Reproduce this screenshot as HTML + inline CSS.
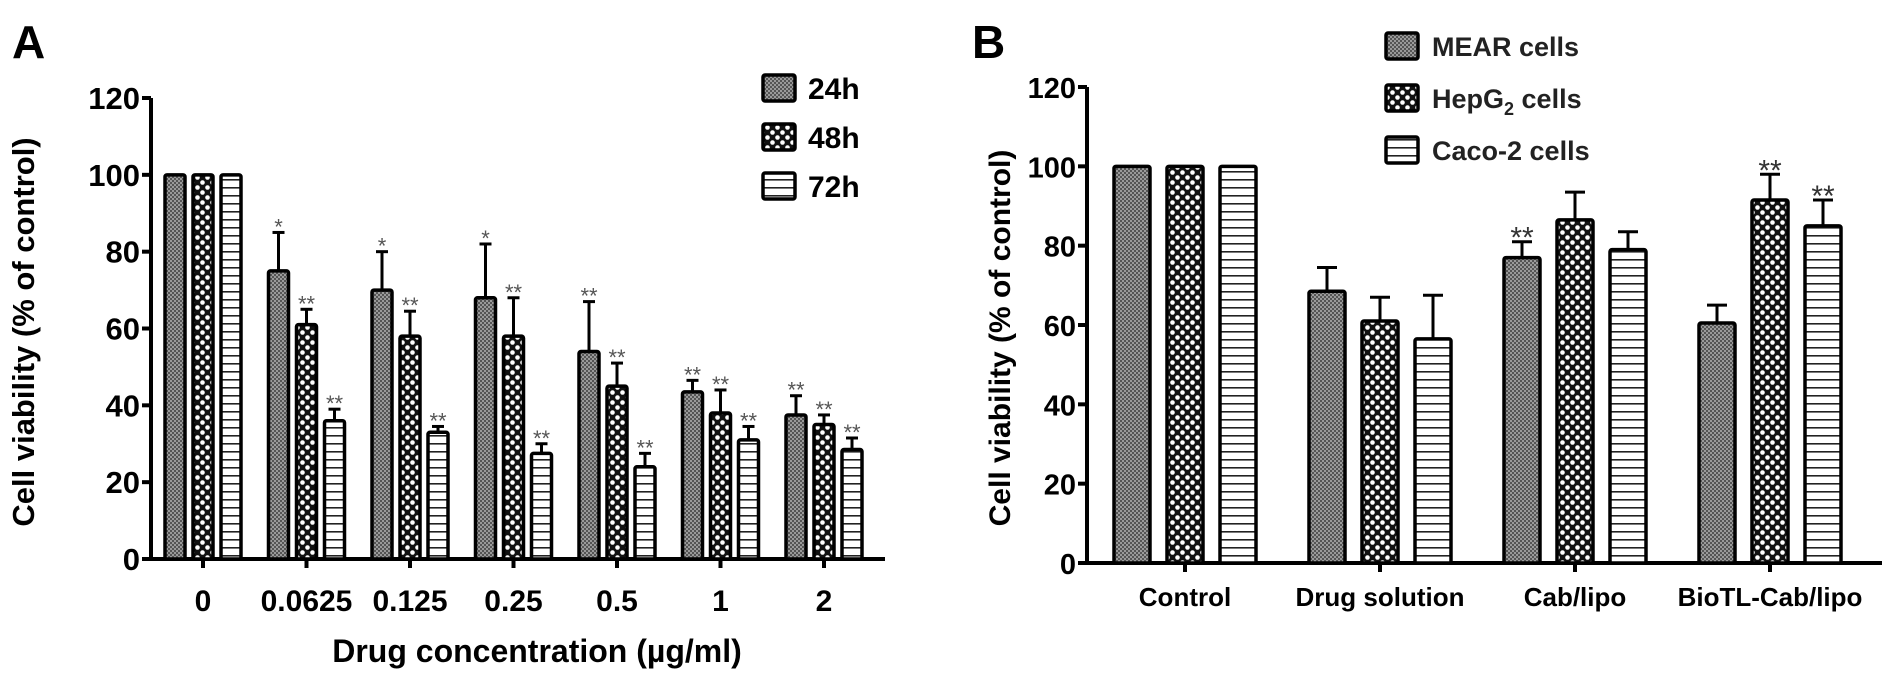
<!DOCTYPE html>
<html><head><meta charset="utf-8"><style>
html,body{margin:0;padding:0;background:#fff;width:1890px;height:677px;overflow:hidden}
svg{display:block;font-family:"Liberation Sans",Arial,sans-serif}
</style></head><body>
<svg id="fig" width="1890" height="677" viewBox="0 0 1890 677" xmlns="http://www.w3.org/2000/svg">
<defs>
<pattern id="pGray" width="4" height="4" patternUnits="userSpaceOnUse"><rect width="4" height="4" fill="#9a9a9a"/><rect width="2" height="2" fill="#555"/><rect x="2" y="2" width="2" height="2" fill="#555"/></pattern>
<pattern id="pCheck" width="10" height="10" patternUnits="userSpaceOnUse"><rect width="10" height="10" fill="#111"/><circle cx="2.5" cy="2.5" r="2.3" fill="#fff"/><circle cx="7.5" cy="7.5" r="2.3" fill="#fff"/></pattern>
<pattern id="pLines" width="8" height="8" patternUnits="userSpaceOnUse"><rect width="8" height="8" fill="#fff"/><rect y="3" width="8" height="1.6" fill="#222"/></pattern>
</defs>
<g id="chartA"></g>
<g id="chartB"></g>
</svg>
<script>
// Chart A data
const catsA = ["0","0.0625","0.125","0.25","0.5","1","2"];
const seriesNamesA = ["24h","48h","72h"];
const vals24 = [100,75,70,68,54,43.5,37.5];
const vals48 = [100,61,58,58,45,38,35];
const vals72 = [100,36,33,27.5,24,31,28.5];
const err24 = [0,10,10,14,13,3,5];
const err48 = [0,4,6.5,10,6,6,2.5];
const err72 = [0,3,1.5,2.5,3.5,3.5,3];
const sig24 = ["","*","*","*","**","**","**"];
const sig48 = ["","**","**","**","**","**","**"];
const sig72 = ["","**","**","**","**","**","**"];
const ticksA = [0,20,40,60,80,100,120];
// Chart B data
const catsB = ["Control","Drug solution","Cab/lipo","BioTL-Cab/lipo"];
const valsMEAR = [100,68.5,77,60.5];
const valsHep = [100,61,86.5,91.5];
const valsCaco = [100,56.5,79,85];
const errMEAR = [0,6,4,4.5];
const errHep = [0,6,7,6.5];
const errCaco = [0,11,4.5,6.5];
const sigMEAR = ["","","**",""];
const sigHep = ["","","","**"];
const sigCaco = ["","","","**"];
const ticksB = [0,20,40,60,80,100,120];

const NS="http://www.w3.org/2000/svg";
function mk(parent,tag,attrs,text){const e=document.createElementNS(NS,tag);for(const k in attrs)e.setAttribute(k,attrs[k]);if(text!==undefined)e.textContent=text;parent.appendChild(e);return e;}

function drawChart(g,cfg){
  const yS=v=>cfg.y0-(v/120)*(cfg.y0-cfg.y120);
  const xS=i=>cfg.firstX+i*cfg.groupStep;
  const ya=mk(g,'line',{x1:cfg.ax,y1:yS(120),x2:cfg.ax,y2:cfg.y0+1.5,stroke:'#000','stroke-width':4});
  
  
  const xa=mk(g,'line',{x1:cfg.ax-2,y1:cfg.y0,x2:cfg.axEnd,y2:cfg.y0,stroke:'#000','stroke-width':4});
  
  
  cfg.ticks.forEach(t=>{
    const tl=mk(g,'line',{x1:cfg.ax-9,y1:yS(t),x2:cfg.ax,y2:yS(t),stroke:'#000','stroke-width':4});
    
    
    const tx=mk(g,'text',{x:cfg.ax-11,y:yS(t)+11,'text-anchor':'end','font-size':cfg.tickFont,'font-weight':'bold'},String(t));
    
    
  });
  cfg.cats.forEach((c,i)=>{
    const cx=xS(i);
    const tk=mk(g,'line',{x1:cx,y1:cfg.y0,x2:cx,y2:cfg.y0+9,stroke:'#000','stroke-width':4});
    
    
    const lb=mk(g,'text',{x:cx,y:cfg.labelY,'text-anchor':'middle','font-size':cfg.catFont,'font-weight':'bold'},c);
    
    
    cfg.series.forEach((s,j)=>{
      const bx=cx+(j-1)*cfg.barStep-cfg.barW/2;
      const v=s.vals[i],e=s.err[i];
      if(e>0){
        const el=mk(g,'line',{x1:bx+cfg.barW/2,y1:yS(v),x2:bx+cfg.barW/2,y2:yS(v+e),stroke:'#000','stroke-width':3});
        
        
        const cap=mk(g,'line',{x1:bx+cfg.barW/2-cfg.cap,y1:yS(v+e),x2:bx+cfg.barW/2+cfg.cap,y2:yS(v+e),stroke:'#000','stroke-width':3});
        
        
      }
      const r=mk(g,'rect',{x:bx,y:yS(v),width:cfg.barW,height:cfg.y0-yS(v),fill:s.fill,stroke:'#000','stroke-width':3.5,rx:2});
      
      
      if(s.sig[i]){
        const st=mk(g,'text',{x:bx+cfg.barW/2,y:yS(v+e)+cfg.starDy,'text-anchor':'middle','font-size':cfg.starFont,fill:cfg.starColor},s.sig[i]);
        
        
      }
    });
  });
  const yt=mk(g,'text',{x:cfg.ytX,y:cfg.ytY,'text-anchor':'middle','font-size':cfg.ytFont,'font-weight':'bold',transform:`rotate(-90 ${cfg.ytX} ${cfg.ytY})`},'Cell viability (% of control)');
  
  
}

const gA=document.getElementById('chartA');
drawChart(gA,{ax:151,axEnd:885,y0:559,y120:98,firstX:203,groupStep:103.5,barStep:28,barW:20,cap:6,tickFont:31,
  cats:catsA,ticks:ticksA,labelY:611,catFont:30,starFont:22,starDy:2,starColor:'#555',ytX:34,ytY:332,ytFont:31,
  series:[{key:'24h',vals:vals24,err:err24,sig:sig24,fill:'url(#pGray)'},{key:'48h',vals:vals48,err:err48,sig:sig48,fill:'url(#pCheck)'},{key:'72h',vals:vals72,err:err72,sig:sig72,fill:'url(#pLines)'}]});
const gB=document.getElementById('chartB');
drawChart(gB,{ax:1087,axEnd:1882,y0:563,y120:87,firstX:1185,groupStep:195,barStep:53,barW:36,cap:10,tickFont:29,
  cats:catsB,ticks:ticksB,labelY:606,catFont:26,starFont:30,starDy:6,starColor:'#333',ytX:1010,ytY:338,ytFont:30,
  series:[{key:'mear',vals:valsMEAR,err:errMEAR,sig:sigMEAR,fill:'url(#pGray)'},{key:'hepg2',vals:valsHep,err:errHep,sig:sigHep,fill:'url(#pCheck)'},{key:'caco2',vals:valsCaco,err:errCaco,sig:sigCaco,fill:'url(#pLines)'}]});

const xt=mk(gA,'text',{x:537,y:662,'text-anchor':'middle','font-size':32,'font-weight':'bold'},'Drug concentration (\u00b5g/ml)');


const pa=mk(gA,'text',{x:12,y:58,'font-size':46,'font-weight':'bold'},'A');


const pb=mk(gB,'text',{x:972,y:58,'font-size':46,'font-weight':'bold'},'B');


const fills=['url(#pGray)','url(#pCheck)','url(#pLines)'];
seriesNamesA.forEach((n,i)=>{
  const y=88+i*49;
  const b=mk(gA,'rect',{x:763,y:y-13,width:32,height:26,fill:fills[i],stroke:'#000','stroke-width':3.5,rx:2});
  
  
  const t=mk(gA,'text',{x:808,y:y+11,'font-size':30,'font-weight':'bold'},n);
  
  
});
const legB=[['MEAR cells'],['HepG','2',' cells'],['Caco-2 cells']];
legB.forEach((parts,i)=>{
  const y=46+i*52;
  const b=mk(gB,'rect',{x:1386,y:y-13,width:32,height:26,fill:fills[i],stroke:'#000','stroke-width':3.5,rx:2});
  
  
  const t=mk(gB,'text',{x:1432,y:y+10,'font-size':27,'font-weight':'bold',fill:'#222'},parts[0]);
  
  
  if(parts.length>1){
    mk(t,'tspan',{'font-size':18,dy:7},parts[1]);
    mk(t,'tspan',{dy:-7},parts[2]);
  }
});
</script>
</body></html>
